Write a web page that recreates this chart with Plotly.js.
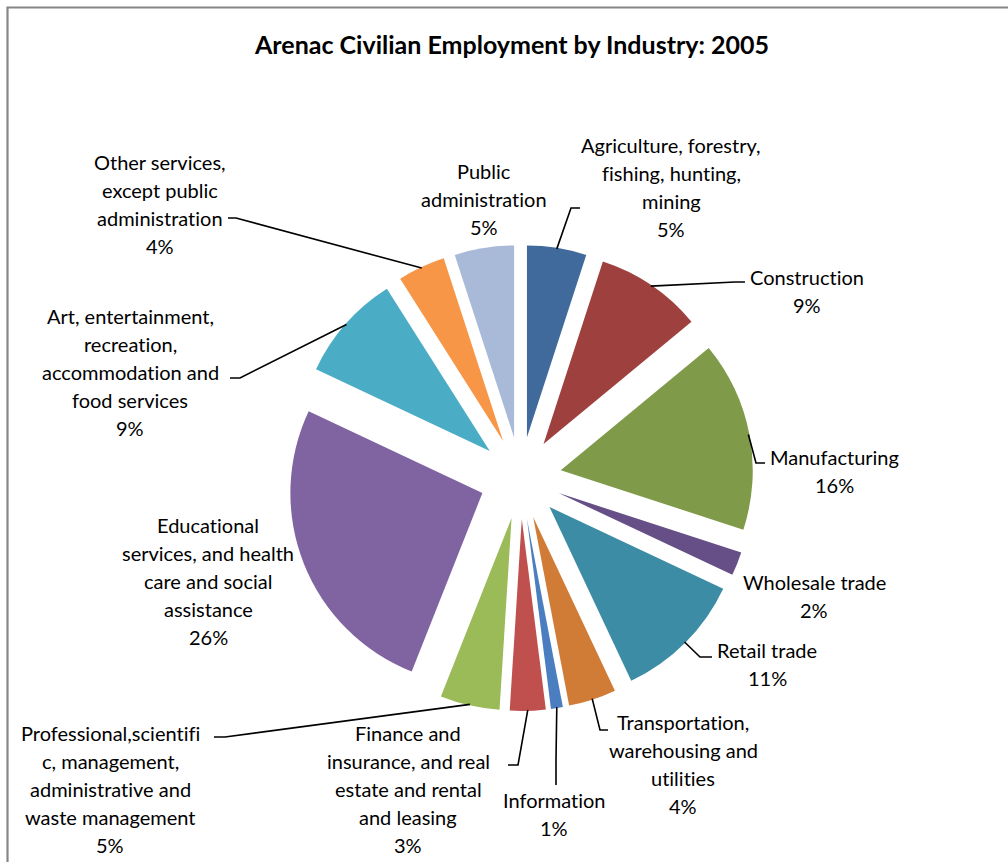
<!DOCTYPE html>
<html>
<head>
<meta charset="utf-8">
<script src="https://cdn.plot.ly/plotly-3.0.1.min.js"></script>
<style>
  html, body { margin: 0; padding: 0; background: #ffffff; }
  #chart { width: 1008px; height: 862px; }
  text { font-variant-ligatures: none; font-feature-settings: "liga" 0, "clig" 0; }
</style>
</head>
<body>
<div id="chart"></div>
<script>
// ---------------- data ----------------
const categories = [
  "Agriculture, forestry, fishing, hunting, mining",
  "Construction",
  "Manufacturing",
  "Wholesale trade",
  "Retail trade",
  "Transportation, warehousing and utilities",
  "Information",
  "Finance and insurance, and real estate and rental and leasing",
  "Professional,scientific, management, administrative and waste management",
  "Educational services, and health care and social assistance",
  "Art, entertainment, recreation, accommodation and food services",
  "Other services, except public administration",
  "Public administration"
];
const values = [5, 9, 16, 2, 11, 4, 1, 3, 5, 26, 9, 4, 5];
const labelLines = [
  ["Agriculture, forestry,", "fishing, hunting,", "mining"],
  ["Construction"],
  ["Manufacturing"],
  ["Wholesale trade"],
  ["Retail trade"],
  ["Transportation,", "warehousing and", "utilities"],
  ["Information"],
  ["Finance and", "insurance, and real", "estate and rental", "and leasing"],
  ["Professional,scientifi", "c, management,", "administrative and", "waste management"],
  ["Educational", "services, and health", "care and social", "assistance"],
  ["Art, entertainment,", "recreation,", "accommodation and", "food services"],
  ["Other services,", "except public", "administration"],
  ["Public", "administration"]
];
const colors = [
  "#3F6A9B", "#9E413E", "#7F9A48", "#654F86", "#3B8CA4", "#D07C37",
  "#4A7EC0", "#C0504D", "#9BBB59", "#8064A2", "#4BACC6", "#F79646", "#A9B9D8"
];

// ---------------- layout constants (pixels) ----------------
const W = 1008, H = 862;
const pieCx = 520.5, pieCy = 478, pieR = 192, pull = 0.2135;
const half = pieR * (1 + pull);
// label block centres
const labelPos = [
  [671, 187], [807, 291], [834, 471], [814, 596], [767, 664], [683, 764],
  [554, 814], [408, 789], [110, 789], [208, 581], [130, 372], [160, 204], [484, 199]
];
// leader lines: [elbowX, elbowY, endX, endY] or null
const leaders = [
  [571, 208, 580, 208], [735, 282, 745, 282], [756, 463, 765, 463], null,
  [700, 657, 712, 657], [600, 730, 608, 730], [556, 760, 556, 785],
  [518, 765, 508, 765], [225, 737, 214, 737], null,
  [240, 378, 230, 378], [236, 218, 228, 218], null
];
const lineGap = 28;

const px = x => x / W;
const py = y => 1 - y / H;

const total = values.reduce((a, b) => a + b, 0);

// annotations (one per text line)
const annotations = [];
values.forEach((v, i) => {
  const lines = labelLines[i].concat([Math.round(v / total * 100) + "%"]);
  const n = lines.length;
  lines.forEach((t, k) => {
    annotations.push({
      text: t, showarrow: false, xref: "paper", yref: "paper",
      x: px(labelPos[i][0]), y: py(labelPos[i][1] + (k - (n - 1) / 2) * lineGap),
      xanchor: "center", yanchor: "middle",
      font: { family: "Lato, 'Open Sans', sans-serif", size: 20, color: "#000000" }
    });
  });
});

// leader lines computed from slice mid angles
const shapes = [];
let cum = 0;
values.forEach((v, i) => {
  const mid = (cum + v / 2) / total * 2 * Math.PI;
  cum += v;
  const L = leaders[i];
  if (!L) return;
  const ax = pieCx + (half - 1) * Math.sin(mid);
  const ay = pieCy - (half - 1) * Math.cos(mid);
  shapes.push({
    type: "path", xref: "paper", yref: "paper",
    path: `M ${px(ax)} ${py(ay)} L ${px(L[0])} ${py(L[1])} L ${px(L[2])} ${py(L[3])}`,
    line: { color: "#000000", width: 1.6 }
  });
});

// chart frame (only top and left edges visible in the picture)
shapes.push({
  type: "rect", xref: "paper", yref: "paper",
  x0: px(7.5), x1: 1.05, y0: -0.05, y1: py(7.5),
  line: { color: "#868686", width: 2.2 }, fillcolor: "rgba(0,0,0,0)"
});

const trace = {
  type: "pie",
  labels: categories,
  values: values,
  sort: false,
  direction: "clockwise",
  rotation: 0,
  pull: values.map(() => pull),
  marker: { colors: colors, line: { width: 0 } },
  textinfo: "none",
  hoverinfo: "label+percent",
  showlegend: false,
  domain: {
    x: [px(pieCx - half), px(pieCx + half)],
    y: [py(pieCy + half), py(pieCy - half)]
  }
};

const layout = {
  width: W, height: H,
  margin: { l: 0, r: 0, t: 0, b: 0 },
  paper_bgcolor: "#ffffff",
  title: {
    text: "<b>Arenac Civilian Employment by Industry: 2005</b>",
    x: px(512), xref: "paper", xanchor: "center",
    y: py(45), yref: "paper", yanchor: "middle",
    font: { family: "Lato, 'Open Sans', sans-serif", size: 25, color: "#000000" }
  },
  annotations: annotations,
  shapes: shapes
};

Plotly.newPlot("chart", [trace], layout, { displayModeBar: false, staticPlot: true });
</script>
</body>
</html>
